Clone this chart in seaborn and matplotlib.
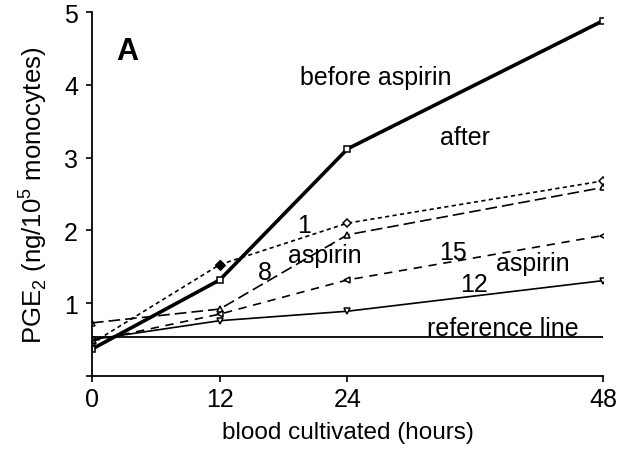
import matplotlib
matplotlib.use("Agg")
import matplotlib.pyplot as plt
import seaborn as sns

sns.set_theme(style="ticks")
plt.rcParams['font.family'] = ['Liberation Sans', 'DejaVu Sans']
plt.rcParams['mathtext.fontset'] = 'custom'
plt.rcParams['mathtext.rm'] = 'Liberation Sans'

hours = [0, 12, 24, 48]
before_aspirin = [0.37, 1.32, 3.12, 4.88]
after_day1 = [0.45, 1.53, 2.10, 2.68]
after_day8 = [0.73, 0.92, 1.94, 2.59]
after_day15 = [0.48, 0.85, 1.32, 1.93]
after_day12 = [0.50, 0.76, 0.89, 1.31]
reference_hours = [0, 48]
reference_value = [0.53, 0.53]
x_ticks = [0, 12, 24, 48]
y_ticks = [0, 1, 2, 3, 4, 5]
y_tick_labels = ["", "1", "2", "3", "4", "5"]

fig = plt.figure(figsize=(6.24, 4.52), dpi=100)
ax = fig.add_axes([0.1474, 0.1659, 0.8189, 0.8053])

series = [
    (before_aspirin, dict(marker='s', lw=2.6, linestyle='-', ms=5)),
    (after_day1, dict(marker='D', lw=1.2, linestyle=(0, (2.5, 2.0)), ms=4)),
    (after_day8, dict(marker='^', lw=1.2, linestyle=(0, (7, 3)), ms=4.5)),
    (after_day15, dict(marker='<', lw=1.2, linestyle=(0, (5, 4)), ms=4.5)),
    (after_day12, dict(marker='v', lw=1.2, linestyle='-', ms=4.5)),
]
for vals, st in series:
    sns.lineplot(x=hours, y=vals, ax=ax, color='black', mfc='white', mec='black',
                 mew=1.1, **st)

# filled diamond at 12 h on the "1" series
sns.lineplot(x=hours[1:2], y=after_day1[1:2], ax=ax, color='black', marker='D',
             ms=5, mfc='black', mec='black', lw=0)

sns.lineplot(x=reference_hours, y=reference_value, ax=ax, color='black', lw=1.3)

ax.set_xlim(0, 48)
ax.set_ylim(0, 5)
ax.set_xticks(x_ticks)
ax.set_xticklabels([str(t) for t in x_ticks])
ax.set_yticks(y_ticks)
ax.set_yticklabels(y_tick_labels)
ax.tick_params(axis='both', labelsize=18, length=4, width=1.2, color='black',
               labelcolor='black', direction='out')
ax.tick_params(axis='x', pad=4)
ax.tick_params(axis='y', pad=6)
for s in ['top', 'right']:
    ax.spines[s].set_visible(False)
for s in ['left', 'bottom']:
    ax.spines[s].set_color('black')
    ax.spines[s].set_linewidth(1.3)

ax.set_xlabel('blood cultivated (hours)', fontsize=17.5, color='black', labelpad=7)
ax.set_ylabel(r'PGE$_\mathregular{2}$ (ng/10$^\mathregular{5}$ monocytes)', fontsize=18.5,
              color='black', labelpad=11)

tk = dict(color='black', fontsize=18, va='baseline')
ax.text(2.3, 4.35, 'A', color='black', fontsize=22, fontweight='bold', va='baseline')
ax.text(19.5, 4.01, 'before aspirin', ha='left', **tk)
ax.text(35.0, 3.19, 'after', ha='center', **tk)
ax.text(19.9, 1.98, '1', ha='center', **tk)
ax.text(21.9, 1.57, 'aspirin', ha='center', **tk)
ax.text(16.25, 1.33, '8', ha='center', **tk)
ax.text(33.9, 1.61, '15', ha='center', **tk)
ax.text(41.4, 1.46, 'aspirin', ha='center', **tk)
ax.text(35.9, 1.17, '12', ha='center', **tk)
ax.text(38.6, 0.57, 'reference line', ha='center', **tk)

fig.savefig('out.png', dpi=100)
